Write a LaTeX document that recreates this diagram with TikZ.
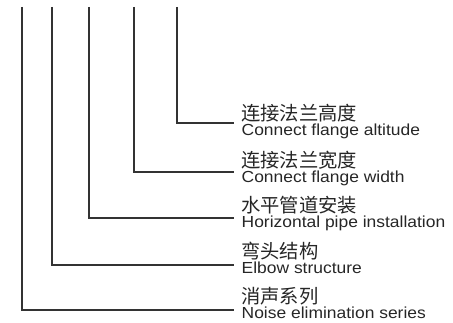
\documentclass[tikz,border=0pt]{standalone}
\usepackage{fontspec}
\setmainfont{Liberation Sans}[FakeStretch=1.09]
\newfontfamily\cjk{Noto Sans CJK SC}
\begin{document}
\begin{tikzpicture}[x=1pt,y=-1pt,
  leader/.style={draw=black!80,line width=1.2pt},
  en/.style={anchor=base west,inner sep=0pt,font=\fontsize{16}{17}\selectfont,text=black!85},
  zh/.style={anchor=base west,inner sep=0pt,font=\cjk\fontsize{19.3}{20}\selectfont,text=black!85}]
\useasboundingbox (0,0) rectangle (453,323);
% label texts
\node[zh] (z5) at (241,120.5) {连接法兰高度};
\node[en] (e5) at (241.5,136) {Connect flange altitude};
\node[zh] (z4) at (241,168) {连接法兰宽度};
\node[en] (e4) at (241.5,183) {Connect flange width};
\node[zh] (z3) at (241,213) {水平管道安装};
\node[en] (e3) at (241.5,228) {Horizontal pipe installation};
\node[zh] (z2) at (241,259) {弯头结构};
\node[en] (e2) at (241.5,274) {Elbow structure};
\node[zh] (z1) at (241,304) {消声系列};
\node[en] (e1) at (241.5,318.5) {Noise elimination series};
% leader lines
\coordinate (t1) at (22,7);  \coordinate (c1) at (234,310);
\coordinate (t2) at (52,7);  \coordinate (c2) at (234,265);
\coordinate (t3) at (89,7);  \coordinate (c3) at (234,218);
\coordinate (t4) at (134,7); \coordinate (c4) at (234,172);
\coordinate (t5) at (177,7); \coordinate (c5) at (234,123);
\draw[leader] (t1) |- (c1);
\draw[leader] (t2) |- (c2);
\draw[leader] (t3) |- (c3);
\draw[leader] (t4) |- (c4);
\draw[leader] (t5) |- (c5);
\end{tikzpicture}
\end{document}
